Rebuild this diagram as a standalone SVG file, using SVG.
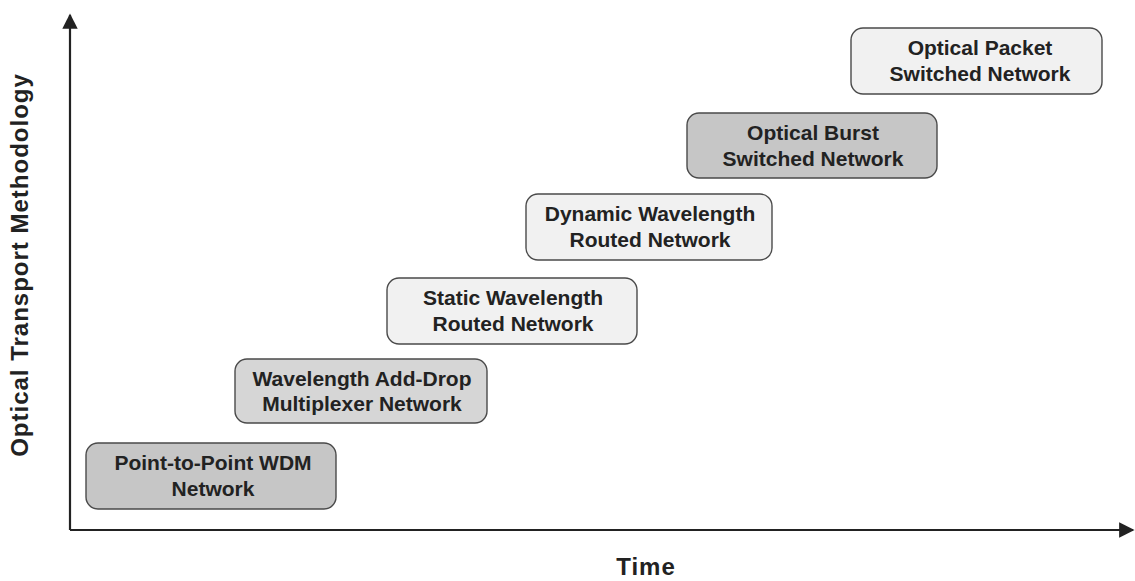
<svg xmlns="http://www.w3.org/2000/svg" width="1135" height="581" viewBox="0 0 1135 581">
<style>
.box{stroke:#4a4a4a;stroke-width:1.4}
.dark{fill:#c6c6c6}
.mid{fill:#d6d6d6}
.light{fill:#f1f1f1}
.t{font-family:"Liberation Sans",Arial,sans-serif;font-weight:bold;font-size:21px;fill:#222;text-anchor:middle}
.big{font-size:24px;letter-spacing:1px}
.axis{stroke:#222;stroke-width:2.2;fill:none}
</style>
<defs>
<marker id="ah" viewBox="0 0 10 10" refX="9" refY="5" markerWidth="7" markerHeight="7" orient="auto" markerUnits="strokeWidth">
<path d="M0,0 L10,5 L0,10 z" fill="#222"/>
</marker>
</defs>
<rect width="1135" height="581" fill="#ffffff"/>
<g id="connectors">
<path class="axis" d="M70,530 L70,15" marker-end="url(#ah)"/>
<path class="axis" d="M70,530 L1133,530" marker-end="url(#ah)"/>
</g>
<g id="n1">
<rect class="box dark" x="86" y="443" width="250" height="66" rx="12"/>
<text class="t" x="213" y="470">Point-to-Point WDM</text>
<text class="t" x="213" y="496">Network</text>
</g>
<g id="n2">
<rect class="box mid" x="235" y="359" width="252" height="64" rx="12"/>
<text class="t" x="362" y="386">Wavelength Add-Drop</text>
<text class="t" x="362" y="411">Multiplexer Network</text>
</g>
<g id="n3">
<rect class="box light" x="387" y="278" width="250" height="66" rx="12"/>
<text class="t" x="513" y="305">Static Wavelength</text>
<text class="t" x="513" y="331">Routed Network</text>
</g>
<g id="n4">
<rect class="box light" x="526" y="194" width="246" height="66" rx="12"/>
<text class="t" x="650" y="221">Dynamic Wavelength</text>
<text class="t" x="650" y="247">Routed Network</text>
</g>
<g id="n5">
<rect class="box dark" x="687" y="113" width="250" height="65" rx="12"/>
<text class="t" x="813" y="140">Optical Burst</text>
<text class="t" x="813" y="166">Switched Network</text>
</g>
<g id="n6">
<rect class="box light" x="851" y="28" width="251" height="66" rx="12"/>
<text class="t" x="980" y="55">Optical Packet</text>
<text class="t" x="980" y="81">Switched Network</text>
</g>
<text class="t big" x="646" y="575">Time</text>
<text class="t big" transform="translate(28,265) rotate(-90)">Optical Transport Methodology</text>
</svg>
